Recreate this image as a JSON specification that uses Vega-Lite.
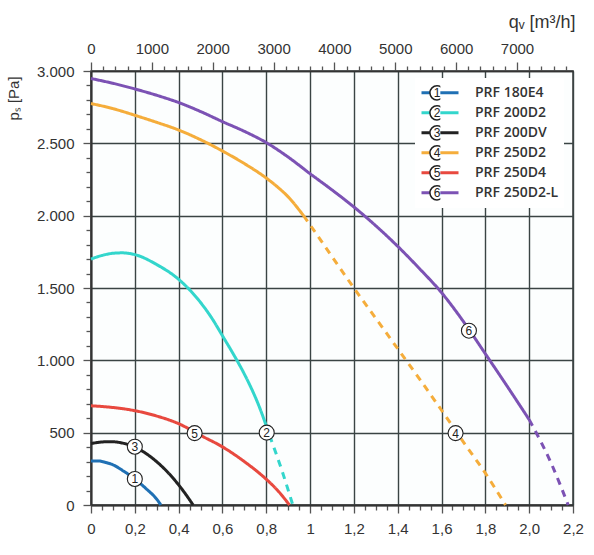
{
  "$schema": "https://vega.github.io/schema/vega-lite/v6.json",
  "width": 482,
  "height": 434,
  "autosize": {"type": "none"},
  "padding": {"left": 91, "top": 71, "right": 21, "bottom": 50},
  "background": "white",
  "config": {
    "view": {"stroke": "#3a3a3a", "strokeWidth": 1.5, "fill": "#fcfefe"},
    "axis": {
      "labelFont": "Liberation Sans", "labelFontSize": 15, "labelColor": "#333",
      "titleFont": "Liberation Sans", "titleFontSize": 15, "titleColor": "#333", "titleFontWeight": "normal",
      "tickColor": "#555", "tickWidth": 1.3, "domainColor": "#333",
      "gridColor": "#3a4444", "gridWidth": 1.4,
      "labelOverlap": false, "labelBound": false, "labelFlush": false
    }
  },
  "datasets": {
    "curves": [
      {"m": "PRF 180E4", "q": 0, "p": 304, "s": "solid"},
      {"m": "PRF 180E4", "q": 0.03, "p": 305, "s": "solid"},
      {"m": "PRF 180E4", "q": 0.06, "p": 297, "s": "solid"},
      {"m": "PRF 180E4", "q": 0.1, "p": 278, "s": "solid"},
      {"m": "PRF 180E4", "q": 0.15, "p": 233, "s": "solid"},
      {"m": "PRF 180E4", "q": 0.2, "p": 180, "s": "solid"},
      {"m": "PRF 180E4", "q": 0.25, "p": 115, "s": "solid"},
      {"m": "PRF 180E4", "q": 0.3, "p": 40, "s": "solid"},
      {"m": "PRF 180E4", "q": 0.319, "p": 0, "s": "solid"},

      {"m": "PRF 200D2", "q": 0, "p": 1700, "s": "solid"},
      {"m": "PRF 200D2", "q": 0.05, "p": 1725, "s": "solid"},
      {"m": "PRF 200D2", "q": 0.1, "p": 1740, "s": "solid"},
      {"m": "PRF 200D2", "q": 0.14, "p": 1743, "s": "solid"},
      {"m": "PRF 200D2", "q": 0.2, "p": 1731, "s": "solid"},
      {"m": "PRF 200D2", "q": 0.3, "p": 1662, "s": "solid"},
      {"m": "PRF 200D2", "q": 0.4, "p": 1560, "s": "solid"},
      {"m": "PRF 200D2", "q": 0.5, "p": 1400, "s": "solid"},
      {"m": "PRF 200D2", "q": 0.55, "p": 1295, "s": "solid"},
      {"m": "PRF 200D2", "q": 0.6, "p": 1170, "s": "solid"},
      {"m": "PRF 200D2", "q": 0.666, "p": 1000, "s": "solid"},
      {"m": "PRF 200D2", "q": 0.7, "p": 905, "s": "solid"},
      {"m": "PRF 200D2", "q": 0.773, "p": 660, "s": "solid"},
      {"m": "PRF 200D2", "q": 0.815, "p": 480, "s": "solid"},
      {"m": "PRF 200D2", "q": 0.815, "p": 480, "s": "dashed"},
      {"m": "PRF 200D2", "q": 0.87, "p": 245, "s": "dashed"},
      {"m": "PRF 200D2", "q": 0.921, "p": 0, "s": "dashed"},

      {"m": "PRF 200DV", "q": 0, "p": 425, "s": "solid"},
      {"m": "PRF 200DV", "q": 0.04, "p": 434, "s": "solid"},
      {"m": "PRF 200DV", "q": 0.086, "p": 438, "s": "solid"},
      {"m": "PRF 200DV", "q": 0.15, "p": 426, "s": "solid"},
      {"m": "PRF 200DV", "q": 0.2, "p": 401, "s": "solid"},
      {"m": "PRF 200DV", "q": 0.25, "p": 357, "s": "solid"},
      {"m": "PRF 200DV", "q": 0.3, "p": 299, "s": "solid"},
      {"m": "PRF 200DV", "q": 0.35, "p": 227, "s": "solid"},
      {"m": "PRF 200DV", "q": 0.4, "p": 139, "s": "solid"},
      {"m": "PRF 200DV", "q": 0.45, "p": 36, "s": "solid"},
      {"m": "PRF 200DV", "q": 0.466, "p": 0, "s": "solid"},

      {"m": "PRF 250D2", "q": 0, "p": 2775, "s": "solid"},
      {"m": "PRF 250D2", "q": 0.1, "p": 2740, "s": "solid"},
      {"m": "PRF 250D2", "q": 0.2, "p": 2694, "s": "solid"},
      {"m": "PRF 250D2", "q": 0.3, "p": 2645, "s": "solid"},
      {"m": "PRF 250D2", "q": 0.4, "p": 2592, "s": "solid"},
      {"m": "PRF 250D2", "q": 0.5, "p": 2525, "s": "solid"},
      {"m": "PRF 250D2", "q": 0.6, "p": 2447, "s": "solid"},
      {"m": "PRF 250D2", "q": 0.7, "p": 2360, "s": "solid"},
      {"m": "PRF 250D2", "q": 0.8, "p": 2260, "s": "solid"},
      {"m": "PRF 250D2", "q": 0.85, "p": 2200, "s": "solid"},
      {"m": "PRF 250D2", "q": 0.9, "p": 2130, "s": "solid"},
      {"m": "PRF 250D2", "q": 0.97, "p": 2000, "s": "solid"},
      {"m": "PRF 250D2", "q": 0.97, "p": 2000, "s": "dashed"},
      {"m": "PRF 250D2", "q": 1.0, "p": 1936, "s": "dashed"},
      {"m": "PRF 250D2", "q": 1.1, "p": 1717, "s": "dashed"},
      {"m": "PRF 250D2", "q": 1.2, "p": 1500, "s": "dashed"},
      {"m": "PRF 250D2", "q": 1.3, "p": 1290, "s": "dashed"},
      {"m": "PRF 250D2", "q": 1.4, "p": 1080, "s": "dashed"},
      {"m": "PRF 250D2", "q": 1.5, "p": 870, "s": "dashed"},
      {"m": "PRF 250D2", "q": 1.6, "p": 655, "s": "dashed"},
      {"m": "PRF 250D2", "q": 1.7, "p": 435, "s": "dashed"},
      {"m": "PRF 250D2", "q": 1.8, "p": 220, "s": "dashed"},
      {"m": "PRF 250D2", "q": 1.892, "p": 0, "s": "dashed"},

      {"m": "PRF 250D4", "q": 0, "p": 686, "s": "solid"},
      {"m": "PRF 250D4", "q": 0.1, "p": 674, "s": "solid"},
      {"m": "PRF 250D4", "q": 0.2, "p": 652, "s": "solid"},
      {"m": "PRF 250D4", "q": 0.3, "p": 615, "s": "solid"},
      {"m": "PRF 250D4", "q": 0.4, "p": 562, "s": "solid"},
      {"m": "PRF 250D4", "q": 0.473, "p": 505, "s": "solid"},
      {"m": "PRF 250D4", "q": 0.5, "p": 482, "s": "solid"},
      {"m": "PRF 250D4", "q": 0.6, "p": 402, "s": "solid"},
      {"m": "PRF 250D4", "q": 0.7, "p": 300, "s": "solid"},
      {"m": "PRF 250D4", "q": 0.8, "p": 178, "s": "solid"},
      {"m": "PRF 250D4", "q": 0.85, "p": 104, "s": "solid"},
      {"m": "PRF 250D4", "q": 0.906, "p": 0, "s": "solid"},

      {"m": "PRF 250D2-L", "q": 0, "p": 2948, "s": "solid"},
      {"m": "PRF 250D2-L", "q": 0.1, "p": 2915, "s": "solid"},
      {"m": "PRF 250D2-L", "q": 0.2, "p": 2876, "s": "solid"},
      {"m": "PRF 250D2-L", "q": 0.3, "p": 2832, "s": "solid"},
      {"m": "PRF 250D2-L", "q": 0.4, "p": 2782, "s": "solid"},
      {"m": "PRF 250D2-L", "q": 0.5, "p": 2720, "s": "solid"},
      {"m": "PRF 250D2-L", "q": 0.6, "p": 2650, "s": "solid"},
      {"m": "PRF 250D2-L", "q": 0.7, "p": 2583, "s": "solid"},
      {"m": "PRF 250D2-L", "q": 0.8, "p": 2505, "s": "solid"},
      {"m": "PRF 250D2-L", "q": 0.9, "p": 2405, "s": "solid"},
      {"m": "PRF 250D2-L", "q": 1.0, "p": 2290, "s": "solid"},
      {"m": "PRF 250D2-L", "q": 1.1, "p": 2178, "s": "solid"},
      {"m": "PRF 250D2-L", "q": 1.2, "p": 2060, "s": "solid"},
      {"m": "PRF 250D2-L", "q": 1.3, "p": 1930, "s": "solid"},
      {"m": "PRF 250D2-L", "q": 1.4, "p": 1788, "s": "solid"},
      {"m": "PRF 250D2-L", "q": 1.5, "p": 1633, "s": "solid"},
      {"m": "PRF 250D2-L", "q": 1.6, "p": 1468, "s": "solid"},
      {"m": "PRF 250D2-L", "q": 1.7, "p": 1268, "s": "solid"},
      {"m": "PRF 250D2-L", "q": 1.8, "p": 1045, "s": "solid"},
      {"m": "PRF 250D2-L", "q": 1.9, "p": 820, "s": "solid"},
      {"m": "PRF 250D2-L", "q": 2.0, "p": 590, "s": "solid"},
      {"m": "PRF 250D2-L", "q": 2.0, "p": 590, "s": "dashed"},
      {"m": "PRF 250D2-L", "q": 2.1, "p": 290, "s": "dashed"},
      {"m": "PRF 250D2-L", "q": 2.178, "p": 0, "s": "dashed"}
    ],
    "tags": [
      {"n": "1", "q": 0.2, "p": 180},
      {"n": "2", "q": 0.802, "p": 500},
      {"n": "3", "q": 0.2, "p": 403},
      {"n": "4", "q": 1.664, "p": 497},
      {"n": "5", "q": 0.473, "p": 497},
      {"n": "6", "q": 1.725, "p": 1205}
    ]
  },
  "resolve": {"axis": {"x": "independent"}},
  "encoding": {
    "y": {
      "field": "p", "type": "quantitative",
      "scale": {"domain": [0, 3000], "nice": false, "zero": false},
      "axis": {
        "orient": "left",
        "title": "pₛ [Pa]",
        "titleX": -78, "titleY": 27, "titleAngle": 270,
        "titleAlign": "center", "titleBaseline": "middle",
        "values": [0,100,200,300,400,500,600,700,800,900,1000,1100,1200,1300,1400,1500,1600,1700,1800,1900,2000,2100,2200,2300,2400,2500,2600,2700,2800,2900,3000],
        "tickCount": 500,
        "grid": true,
        "gridOpacity": {"condition": {"test": "datum.value % 500 == 0", "value": 1}, "value": 0},
        "tickSize": {"condition": {"test": "datum.value % 500 == 0", "value": 8}, "value": 5},
        "labelExpr": "datum.value % 500 != 0 ? '' : replace(format(datum.value, ','), ',', '.')",
        "labelPadding": 9,
        "domainWidth": 2
      }
    }
  },
  "layer": [
    {
      "data": {"name": "curves"},
      "mark": {"type": "line", "strokeWidth": 3, "interpolate": "monotone"},
      "encoding": {
        "x": {
          "field": "q", "type": "quantitative",
          "scale": {"domain": [0, 2.2], "nice": false, "zero": false},
          "axis": {
            "orient": "bottom", "title": null,
            "values": [0,0.05,0.1,0.15,0.2,0.25,0.3,0.35,0.4,0.45,0.5,0.55,0.6,0.65,0.7,0.75,0.8,0.85,0.9,0.95,1,1.05,1.1,1.15,1.2,1.25,1.3,1.35,1.4,1.45,1.5,1.55,1.6,1.65,1.7,1.75,1.8,1.85,1.9,1.95,2,2.05,2.1,2.15,2.2],
            "tickCount": 500,
            "grid": true,
            "gridOpacity": {"condition": {"test": "round(datum.value*100) % 20 == 0", "value": 1}, "value": 0},
            "tickSize": {"condition": {"test": "round(datum.value*100) % 20 == 0", "value": 8}, "value": 5},
            "labelExpr": "round(datum.value*100) % 20 != 0 ? '' : datum.value == 0 ? '0' : datum.value == 1 ? '1' : replace(format(datum.value, '.1f'), '.', ',')",
            "labelPadding": 8,
            "domainWidth": 2
          }
        },
        "color": {
          "field": "m", "type": "nominal",
          "scale": {
            "domain": ["PRF 180E4", "PRF 200D2", "PRF 200DV", "PRF 250D2", "PRF 250D4", "PRF 250D2-L"],
            "range": ["#1f70b4", "#33d6cc", "#222222", "#f5ad3b", "#e8493f", "#7c52b4"]
          },
          "legend": {
            "title": null, "orient": "none", "legendX": 324, "legendY": 7,
            "padding": 5, "fillColor": "white",
            "symbolType": "stroke", "symbolSize": 1369, "symbolStrokeWidth": 3,
            "clipHeight": 19.7,
            "labelFont": "Open Sans", "labelFontWeight": 600, "labelFontSize": 14,
            "labelColor": "#333", "labelOffset": 15, "rowPadding": 0
          }
        },
        "strokeDash": {
          "field": "s", "type": "nominal",
          "scale": {"domain": ["solid", "dashed"], "range": [[1, 0], [7, 6]]},
          "legend": null
        }
      }
    },
    {
      "data": {"name": "tags"},
      "mark": {"type": "point", "filled": true, "fill": "white", "stroke": "#222", "strokeWidth": 1.1, "size": 225, "opacity": 1},
      "encoding": {
        "x": {
          "field": "q", "type": "quantitative",
          "scale": {"domain": [0, 2.2], "nice": false, "zero": false},
          "axis": {
            "orient": "top",
            "title": "qᵥ  [m³/h]",
            "titleFontSize": 18,
            "titleX": 484, "titleY": -44, "titleAngle": 0,
            "titleAlign": "right", "titleBaseline": "alphabetic",
            "values": [0,0.0555556,0.1111111,0.1666667,0.2222222,0.2777778,0.3333333,0.3888889,0.4444444,0.5,0.5555556,0.6111111,0.6666667,0.7222222,0.7777778,0.8333333,0.8888889,0.9444444,1.0,1.0555556,1.1111111,1.1666667,1.2222222,1.2777778,1.3333333,1.3888889,1.4444444,1.5,1.5555556,1.6111111,1.6666667,1.7222222,1.7777778,1.8333333,1.8888889,1.9444444,2.0,2.0555556,2.1111111,2.1666667],
            "tickCount": 500,
            "grid": false,
            "tickSize": {"condition": {"test": "round(datum.value*3600) % 1000 == 0", "value": 9}, "value": 5},
            "labelExpr": "round(datum.value*3600) % 1000 == 0 ? format(round(datum.value*3600), 'd') : ''",
            "labelPadding": 6,
            "domainWidth": 1.5
          }
        },
        "shape": {
          "field": "n", "type": "nominal",
          "scale": {"domain": ["1", "2", "3", "4", "5", "6"], "range": ["circle", "circle", "circle", "circle", "circle", "circle"]},
          "legend": {
            "title": null, "orient": "none", "legendX": 338, "legendY": 12,
            "padding": 0,
            "symbolType": "circle", "symbolSize": 200,
            "clipHeight": 19.7,
            "labelFont": "Liberation Sans", "labelFontSize": 12, "labelColor": "#222",
            "labelAlign": "center", "labelOffset": -8, "rowPadding": 0,
            "encoding": {
              "symbols": {
                "update": {
                  "fill": {"value": "white"},
                  "stroke": {"value": "#222"},
                  "strokeWidth": {"value": 1.1},
                  "opacity": {"value": 1}
                }
              }
            }
          }
        }
      }
    },
    {
      "data": {"name": "tags"},
      "mark": {"type": "text", "font": "Liberation Sans", "fontSize": 12, "color": "#222", "align": "center", "baseline": "middle", "dy": 0.5},
      "encoding": {
        "x": {"field": "q", "type": "quantitative", "axis": null},
        "text": {"field": "n"}
      }
    }
  ]
}
